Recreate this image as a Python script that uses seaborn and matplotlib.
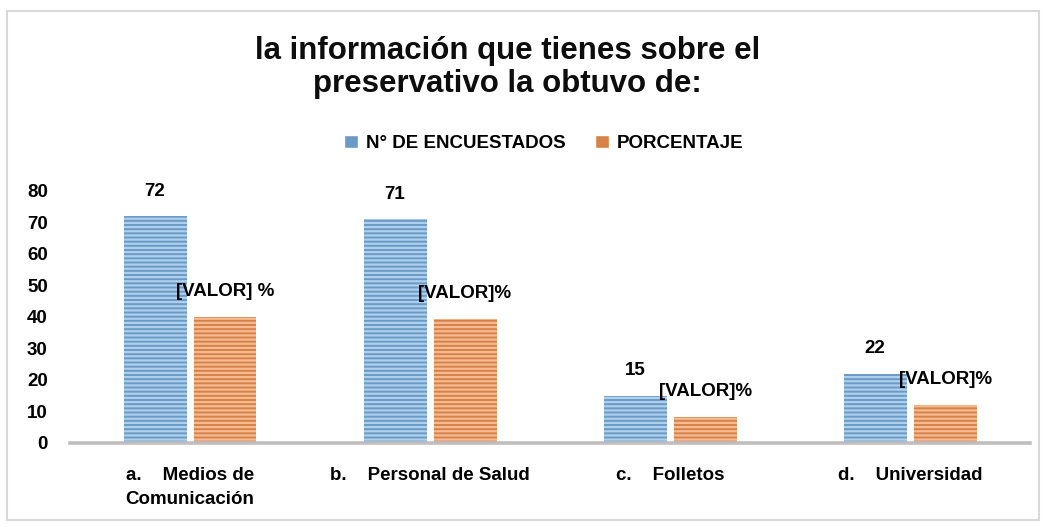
import numpy as np
import pandas as pd
import seaborn as sns
import matplotlib.pyplot as plt
from matplotlib.patches import Rectangle

categories = ["a.    Medios de\nComunicación", "b.    Personal de Salud",
              "c.    Folletos", "d.    Universidad"]
encuestados = [72, 71, 15, 22]
porcentaje = [40.0, 39.4, 8.3, 12.2]
pct_labels = ["[VALOR] %", "[VALOR]%", "[VALOR]%", "[VALOR]%"]
series = ["N° DE ENCUESTADOS", "PORCENTAJE"]
y_ticks = [0, 10, 20, 30, 40, 50, 60, 70, 80]

df = pd.DataFrame({
    "cat": categories * 2,
    "serie": [series[0]] * 4 + [series[1]] * 4,
    "valor": encuestados + porcentaje,
})

sns.set_style("white")
plt.rcParams["font.family"] = ["Liberation Sans", "DejaVu Sans"]
plt.rcParams["font.weight"] = "bold"
plt.rcParams["text.color"] = "black"
plt.rcParams["xtick.color"] = "black"
plt.rcParams["ytick.color"] = "black"
plt.rcParams["hatch.linewidth"] = 1.6

fig = plt.figure(figsize=(10.46, 5.27), dpi=100)
ax = fig.add_axes([0.0669, 0.1594, 0.918, 0.4782])

sns.barplot(data=df, x="cat", y="valor", hue="serie",
            palette=["#5B9BD5", "#ED7D31"], width=0.583, gap=0.1,
            ax=ax, legend=True)

# striped look like the original (lighter horizontal lines)
stripe = ["#AFCFEC", "#F6BA92"]
for cont, sc in zip(ax.containers, stripe):
    for bar in cont:
        bar.set_hatch("----")
        bar.set_edgecolor(sc)
        bar.set_linewidth(0)

fs = 13.5
ax.bar_label(ax.containers[0], labels=[str(v) for v in encuestados],
             padding=12, fontsize=fs, fontweight="bold")
ax.bar_label(ax.containers[1], labels=pct_labels,
             padding=12, fontsize=fs, fontweight="bold")

ax.set_ylim(0, 80)
ax.set_yticks(y_ticks)
ax.set_xlim(-0.5, 3.5)
ax.set_xlabel("")
ax.set_ylabel("")
for s in ["top", "right", "left"]:
    ax.spines[s].set_visible(False)
ax.spines["bottom"].set_color("#BFBFBF")
ax.spines["bottom"].set_linewidth(2.6)
ax.tick_params(axis="y", length=0, pad=16, labelsize=fs)
ax.tick_params(axis="x", length=0, pad=17, labelsize=fs)
for t in ax.get_yticklabels() + ax.get_xticklabels():
    t.set_fontweight("bold")
for t in ax.get_xticklabels():
    t.set_linespacing(1.55)

handles, labels = ax.get_legend_handles_labels()
ax.get_legend().remove()
leg = fig.legend(handles, labels, loc="center", bbox_to_anchor=(0.52, 0.728),
                 ncol=2, frameon=False, handlelength=0.75, handleheight=0.75,
                 columnspacing=1.6, handletextpad=0.4,
                 prop={"size": fs, "weight": "bold"})

fig.text(0.485, 0.932, "la información que tienes sobre el\npreservativo la obtuvo de:",
         ha="center", va="top", fontsize=22.5, fontweight="bold",
         linespacing=1.12, color="#0D0D0D")

fig.patches.append(Rectangle((7 / 1046, 7 / 527), 1032 / 1046, 509 / 527,
                             transform=fig.transFigure, fill=False,
                             edgecolor="#D9D9D9", linewidth=1.5))

fig.savefig("out.png", dpi=100)
